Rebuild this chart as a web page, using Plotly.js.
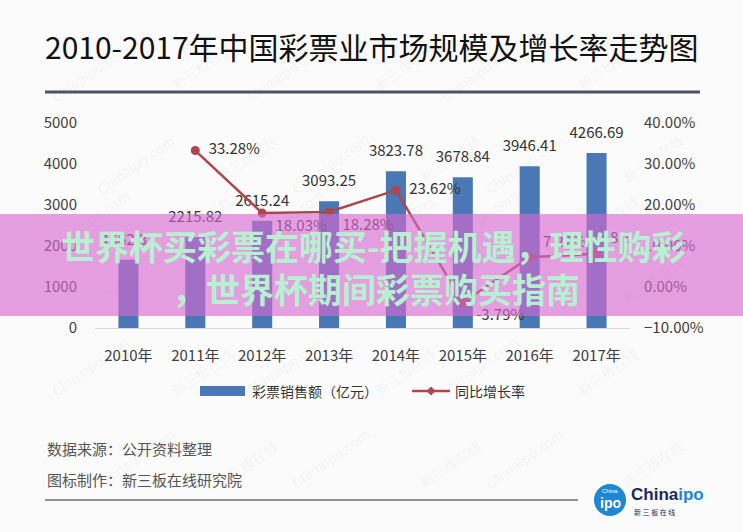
<!DOCTYPE html>
<html>
<head>
<meta charset="utf-8">
<script src="https://cdn.plot.ly/plotly-3.0.1.min.js"></script>
<style>
  html, body { margin: 0; padding: 0; background: #fbfbfb; }
  #chart { width: 743px; height: 532px; }
</style>
</head>
<body>
<div id="chart"></div>
<script>
// Lottery market size (100 million yuan) and year-on-year growth, 2010-2017
const years = ['2010年', '2011年', '2012年', '2013年', '2014年', '2015年', '2016年', '2017年'];
const sales = [1662.32, 2215.82, 2615.24, 3093.25, 3823.78, 3678.84, 3946.41, 4266.69];
const growth = [null, 33.28, 18.03, 18.28, 23.62, -3.79, 7.27, 8.12];

const salesName = '彩票销售额（亿元）';
const growthName = '同比增长率';
const titleText = '2010-2017年中国彩票业市场规模及增长率走势图';
const bannerLine1 = '世界杯买彩票在哪买-把握机遇，理性购彩';
const bannerLine2 = '，世界杯期间彩票购买指南';
const sourceText = '数据来源：公开资料整理';
const makerText = '图标制作：新三板在线研究院';

// page geometry
const W = 743, H = 532, L = 95, R = 113, T = 123, B = 204;
const PW = W - L - R, PH = H - T - B;
const px = x => (x - L) / PW;
const py = y => (H - B - y) / PH;

const CJK = '"Noto Sans CJK SC", "Noto Sans", sans-serif';
const barColor = '#4a78b5';
const lineColor = '#ad4650';

// where each growth label sits around its point
const growthLabelPos = ['middle right', 'middle right', 'bottom right', 'bottom right',
                        'middle right', 'bottom right', 'top right', 'top right'];

const traces = [
  {
    type: 'bar', x: years, y: sales, name: salesName,
    marker: { color: barColor }, width: 0.3, hoverinfo: 'skip', showlegend: false
  },
  {
    // value labels above the bars
    type: 'scatter', mode: 'markers+text', x: years, y: sales,
    marker: { size: 16, opacity: 0 }, texttemplate: '%{y:.2f}', textposition: 'top center',
    textfont: { family: CJK, size: 15, color: '#333' }, hoverinfo: 'skip', showlegend: false
  },
  {
    type: 'scatter', mode: 'lines+markers+text', x: years, y: growth, yaxis: 'y2',
    name: growthName, connectgaps: false,
    line: { color: lineColor, width: 2.5 },
    marker: { color: lineColor, size: 9 },
    texttemplate: '\u00a0\u00a0%{y:.2f}%', textposition: growthLabelPos,
    textfont: { family: CJK, size: 15, color: '#333' }, hoverinfo: 'skip', showlegend: false
  }
];

const shapes = [
  // rule under the title
  { type: 'line', xref: 'paper', yref: 'paper', x0: px(45), x1: px(700), y0: py(92), y1: py(92),
    line: { color: '#4a5561', width: 3 } },
  // legend swatches
  { type: 'rect', xref: 'paper', yref: 'paper', x0: px(200), x1: px(245), y0: py(396), y1: py(386),
    fillcolor: barColor, line: { width: 0 } },
  { type: 'line', xref: 'paper', yref: 'paper', x0: px(412), x1: px(450), y0: py(391), y1: py(391),
    line: { color: lineColor, width: 2.5 } },
  { type: 'path', xref: 'paper', yref: 'paper',
    path: `M${px(431)},${py(386.5)} L${px(435.5)},${py(391)} L${px(431)},${py(395.5)} L${px(426.5)},${py(391)} Z`,
    fillcolor: lineColor, line: { width: 0 } },
  // footer rule
  { type: 'line', xref: 'paper', yref: 'paper', x0: px(45), x1: px(578), y0: py(500), y1: py(500),
    line: { color: '#707070', width: 1.5 } },
  // logo disc
  { type: 'circle', xref: 'paper', yref: 'paper', x0: px(594), x1: px(626), y0: py(516), y1: py(484),
    fillcolor: '#1f86d2', line: { width: 0 } },
  // headline banner
  { type: 'rect', xref: 'paper', yref: 'paper', layer: 'above', x0: px(0), x1: px(743), y0: py(316), y1: py(214),
    fillcolor: 'rgba(216,105,208,0.63)', line: { width: 0 } }
];

const annotations = [];
// faint background watermarks
const marks = ['Chinaipo.com', '新三板在线'];
let k = 0;
for (let r = 0; r < 6; r++) {
  for (let c = 0; c < 6; c++) {
    annotations.push({
      xref: 'paper', yref: 'paper', x: px(45 + c * 120 + (r % 2) * 45), y: py(35 + r * 92),
      text: marks[(k++) % 2], showarrow: false, textangle: -35,
      font: { family: CJK, size: 14, color: 'rgba(120,120,120,0.07)' }
    });
  }
}
annotations.push(
  { xref: 'paper', yref: 'paper', x: px(250), y: py(391), xanchor: 'left', yanchor: 'middle',
    text: salesName, showarrow: false, font: { family: CJK, size: 14, color: '#333' } },
  { xref: 'paper', yref: 'paper', x: px(453), y: py(391), xanchor: 'left', yanchor: 'middle',
    text: growthName, showarrow: false, font: { family: CJK, size: 14, color: '#333' } },
  { xref: 'paper', yref: 'paper', x: px(45), y: py(448), xanchor: 'left', yanchor: 'middle',
    text: sourceText, showarrow: false, font: { family: CJK, size: 15, color: '#555' } },
  { xref: 'paper', yref: 'paper', x: px(45), y: py(479), xanchor: 'left', yanchor: 'middle',
    text: makerText, showarrow: false, font: { family: CJK, size: 15, color: '#555' } },
  // logo lettering
  { xref: 'paper', yref: 'paper', x: px(610), y: py(503), xanchor: 'center', yanchor: 'middle',
    text: '<b>ipo</b>', showarrow: false, font: { family: 'Liberation Sans', size: 14, color: '#fff' } },
  { xref: 'paper', yref: 'paper', x: px(610), y: py(491), xanchor: 'center', yanchor: 'middle',
    text: 'China', showarrow: false, font: { family: 'Liberation Sans', size: 6, color: '#fff' } },
  { xref: 'paper', yref: 'paper', x: px(629), y: py(494), xanchor: 'left', yanchor: 'middle',
    text: '<b>China<span style="color:#1f86d2">ipo</span></b>', showarrow: false,
    font: { family: 'Liberation Sans', size: 17, color: '#1c2a55' } },
  { xref: 'paper', yref: 'paper', x: px(632), y: py(512), xanchor: 'left', yanchor: 'middle',
    text: '新 三 板 在 线', showarrow: false, font: { family: CJK, size: 7, color: '#1c2a55' } },
  // banner headline
  { xref: 'paper', yref: 'paper', x: px(373), y: py(245), xanchor: 'center', yanchor: 'middle',
    text: '<b>' + bannerLine1 + '</b>', showarrow: false,
    font: { family: CJK, size: 34, color: '#b8f0d2' } },
  { xref: 'paper', yref: 'paper', x: px(376), y: py(288), xanchor: 'center', yanchor: 'middle',
    text: '<b>' + bannerLine2 + '</b>', showarrow: false,
    font: { family: CJK, size: 34, color: '#b8f0d2' } }
);

const layout = {
  width: W, height: H,
  margin: { l: L, r: R, t: T, b: B, pad: 0 },
  paper_bgcolor: '#fbfbfb', plot_bgcolor: '#fbfbfb',
  showlegend: false,
  title: {
    text: titleText, xref: 'container', yref: 'container',
    x: 45 / W, xanchor: 'left', y: 1 - 48 / H, yanchor: 'middle',
    font: { family: CJK, size: 30, color: '#111' }
  },
  bargap: 0.7,
  xaxis: {
    type: 'category', range: [-0.5, 7.5], fixedrange: true,
    showline: true, linecolor: '#d9d9d9', linewidth: 1,
    ticks: 'outside', ticklen: 14, tickcolor: 'rgba(0,0,0,0)',
    tickfont: { family: CJK, size: 15, color: '#404040' }, showgrid: false, zeroline: false
  },
  yaxis: {
    range: [0, 5000], tick0: 0, dtick: 1000, fixedrange: true,
    showgrid: false, zeroline: false, showline: false,
    ticks: 'outside', ticklen: 14, tickcolor: 'rgba(0,0,0,0)',
    tickfont: { family: CJK, size: 15, color: '#404040' }
  },
  yaxis2: {
    overlaying: 'y', side: 'right', range: [-10, 40], tick0: -10, dtick: 10,
    tickformat: '.2f', ticksuffix: '%', fixedrange: true,
    showgrid: false, zeroline: false, showline: false,
    ticks: 'outside', ticklen: 10, tickcolor: 'rgba(0,0,0,0)',
    tickfont: { family: CJK, size: 15, color: '#404040' }
  },
  shapes: shapes,
  annotations: annotations
};

Plotly.newPlot('chart', traces, layout, { displayModeBar: false, staticPlot: true });
</script>
</body>
</html>
